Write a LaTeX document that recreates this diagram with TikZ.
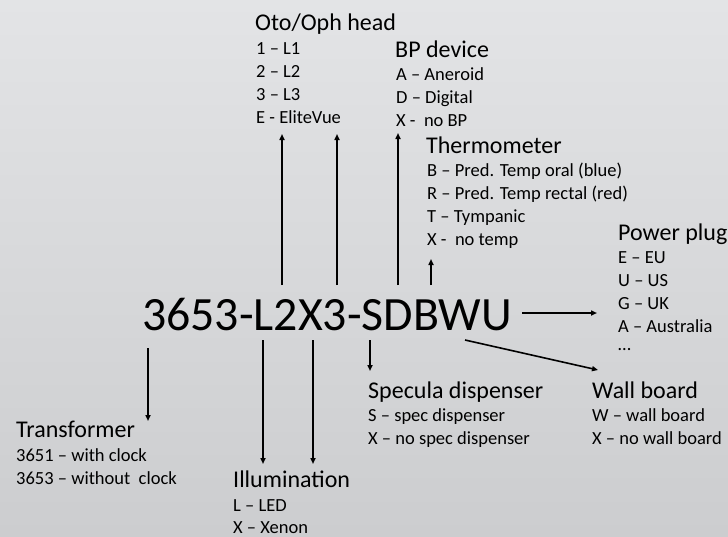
\documentclass[tikz,border=0pt]{standalone}
\usepackage{fontspec}
\setmainfont{Carlito}
\usetikzlibrary{arrows.meta}
\definecolor{bgtop}{RGB}{227,228,230}
\definecolor{bgbot}{RGB}{204,205,207}
\begin{document}
\begin{tikzpicture}[x=1pt,y=-1pt,
  ttl/.style={anchor=base west,inner sep=0pt,font=\fontsize{24}{24}\selectfont},
  itm/.style={anchor=base west,inner sep=0pt,font=\fontsize{18.5}{18.5}\selectfont},
  codetext/.style={anchor=base west,inner sep=0pt,font=\fontsize{47.8}{47.8}\selectfont},
  arr/.style={-{Triangle[length=6pt,width=5pt]},line width=1.6pt,black}]
\shade[top color=bgtop,bottom color=bgbot] (0,0) rectangle (728,536);
\useasboundingbox (0,0) rectangle (728,536);

% main code
\node[codetext] (code) at (142,330) {3653-L2X3-SDBWU};

% Oto/Oph head
\node[ttl] (oto) at (255,30) {Oto/Oph head};
\node[itm] (oto1) at (256,54) {1 – L1};
\node[itm] (oto2) at (256,77) {2 – L2};
\node[itm] (oto3) at (256,100) {3 – L3};
\node[itm] (oto4) at (256,123) {E - EliteVue};

% BP device
\node[ttl] (bp) at (395,57) {BP device};
\node[itm] (bp1) at (396,80) {A – Aneroid};
\node[itm] (bp2) at (396,103) {D – Digital};
\node[itm] (bp3) at (396,126) {X -\ \ no BP};

% Thermometer
\node[ttl] (th) at (426,153) {Thermometer};
\node[itm] (th1) at (427,176) {B – Pred. Temp oral (blue)};
\node[itm] (th2) at (427,199) {R – Pred. Temp rectal (red)};
\node[itm] (th3) at (427,222) {T – Tympanic};
\node[itm] (th4) at (427,245) {X -\ \ no temp};

% Power plug
\node[ttl] (pp) at (618,240) {Power plug};
\node[itm] (pp1) at (618,263) {E – EU};
\node[itm] (pp2) at (618,286) {U – US};
\node[itm] (pp3) at (618,309) {G – UK};
\node[itm] (pp4) at (618,332) {A – Australia};
\node[itm] (pp5) at (618,350) {…};

% Wall board
\node[ttl] (wb) at (592,398) {Wall board};
\node[itm] (wb1) at (592,421) {W – wall board};
\node[itm] (wb2) at (592,444) {X – no wall board};

% Specula dispenser
\node[ttl] (sp) at (368,398) {Specula dispenser};
\node[itm] (sp1) at (368,421) {S – spec dispenser};
\node[itm] (sp2) at (368,444) {X – no spec dispenser};

% Transformer
\node[ttl] (tr) at (16,437) {Transformer};
\node[itm] (tr1) at (16,461) {3651 – with clock};
\node[itm] (tr2) at (16,484) {3653 – without\ \ clock};

% Illumination
\node[ttl] (il) at (233,487) {Illumination};
\node[itm] (il1) at (233,511) {L – LED};
\node[itm] (il2) at (233,533) {X – Xenon};

% connector end points
\coordinate (a1s) at (282,285); \coordinate (a1e) at (282,134);
\coordinate (a2s) at (337,285); \coordinate (a2e) at (337,134);
\coordinate (a3s) at (398,285); \coordinate (a3e) at (398,133);
\coordinate (a4s) at (431,285); \coordinate (a4e) at (431,259);
\coordinate (a5s) at (522,313); \coordinate (a5e) at (597,313);
\coordinate (a6s) at (465,340); \coordinate (a6e) at (598,370);
\coordinate (a7s) at (148,348); \coordinate (a7e) at (148,421);
\coordinate (a8s) at (263,340); \coordinate (a8e) at (263,464);
\coordinate (a9s) at (313,340); \coordinate (a9e) at (313,464);
\coordinate (a10s) at (370,340); \coordinate (a10e) at (370,371);

\draw[arr] (a1s) -- (a1e);
\draw[arr] (a2s) -- (a2e);
\draw[arr] (a3s) -- (a3e);
\draw[arr] (a4s) -- (a4e);
\draw[arr] (a5s) -- (a5e);
\draw[arr] (a6s) -- (a6e);
\draw[arr] (a7s) -- (a7e);
\draw[arr] (a8s) -- (a8e);
\draw[arr] (a9s) -- (a9e);
\draw[arr] (a10s) -- (a10e);
\end{tikzpicture}
\end{document}
